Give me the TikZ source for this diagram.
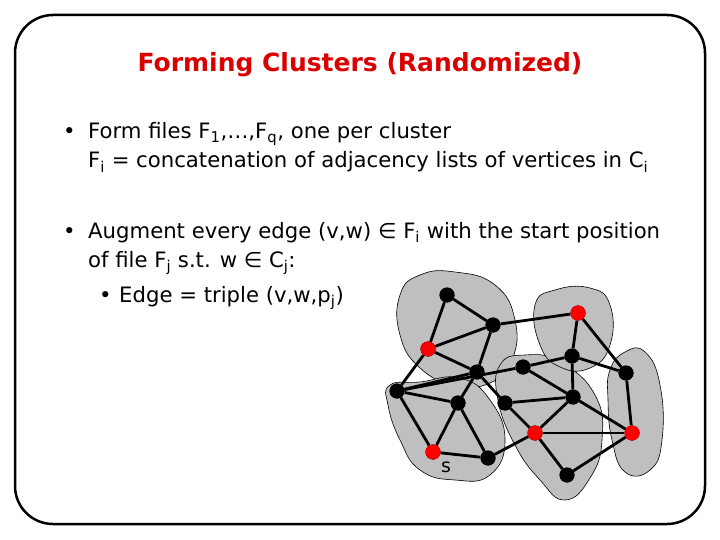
\documentclass[tikz,border=0pt]{standalone}
\usepackage{fontspec}
\setmainfont{DejaVu Sans}
\begin{document}
\begin{tikzpicture}[x=1pt,y=-1pt,
  blob/.style={fill=black!25,draw=black,line width=0.6pt},
  vb/.style={circle,fill=black,inner sep=0pt,minimum size=15pt},
  vr/.style={circle,fill=red,inner sep=0pt,minimum size=15pt},
  ed/.style={line width=2.8pt},
  txt/.style={anchor=base west,inner sep=0pt,font=\fontsize{21.2}{24}\selectfont}]
\useasboundingbox (0,0) rectangle (720,540);
\draw[line width=2.5pt,rounded corners=38pt] (15,15) rectangle (705,524);
\node[font=\bfseries\fontsize{25}{28}\selectfont,text=red!85!black] (title) at (360,65) {Forming Clusters (Randomized)};
\node[txt] (b1) at (63,139) {•};
\node[txt] (l1) at (88,139) {Form files F\textsubscript{1},\dots,F\textsubscript{q}, one per cluster};
\node[txt] (l2) at (88,168) {F\textsubscript{i} = concatenation of adjacency lists of vertices in C\textsubscript{i}};
\node[txt] (b3) at (63,238) {•};
\node[txt] (l3) at (88,238) {Augment every edge (v,w) ∈ F\textsubscript{i} with the start position};
\node[txt] (l4) at (88,267) {of file F\textsubscript{j} s.t. w ∈ C\textsubscript{j}:};
\node[txt] (b5) at (99,302) {•};
\node[txt] (l5) at (119,302) {Edge = triple (v,w,p\textsubscript{j})};
% blobs
\draw[blob] plot[smooth cycle,tension=0.8] coordinates {(400,295)(420,275)(455,272)(495,285)(515,320)(512,360)(490,383)(455,385)(420,368)(400,335)};
\draw[blob] plot[smooth cycle,tension=0.8] coordinates {(390,385)(420,382)(460,378)(490,400)(505,440)(490,475)(455,480)(420,470)(400,440)(388,405)};
\draw[blob] plot[smooth cycle,tension=0.8] coordinates {(500,365)(525,355)(560,362)(595,395)(602,440)(590,478)(565,500)(540,480)(515,445)(498,400)};
\draw[blob] plot[smooth cycle,tension=0.8] coordinates {(535,305)(555,290)(590,288)(610,305)(610,345)(590,368)(560,367)(540,345)};
\draw[blob] plot[smooth cycle,tension=0.8] coordinates {(610,370)(625,352)(645,352)(660,385)(662,440)(650,470)(625,472)(612,440)(608,400)};
% vertices
\node[vb] (a) at (447,295) {};
\node[vb] (b) at (493,325) {};
\node[vr] (c) at (428,349) {};
\node[vb] (d) at (477,372) {};
\node[vb] (e) at (397,391) {};
\node[vb] (f) at (458,403) {};
\node[vr] (g) at (433,452) {};
\node[vb] (h) at (488,458) {};
\node[vb] (i) at (523,367) {};
\node[vr] (j) at (578,313) {};
\node[vb] (k) at (572,356) {};
\node[vb] (l) at (626,373) {};
\node[vb] (m) at (505,403) {};
\node[vb] (n) at (573,397) {};
\node[vr] (o) at (535,433) {};
\node[vr] (p) at (632,433) {};
\node[vb] (q) at (567,475) {};
\node[font=\fontsize{19}{20}\selectfont] (s) at (446,467) {s};
\foreach \u/\v in {a/b,a/c,c/b,b/d,c/d,b/j,c/e,e/d,e/f,e/g,f/g,f/h,d/f,g/h,h/o,d/m,e/i,i/k,i/n,m/n,m/o,n/o,k/n,j/k,j/l,k/l,l/p,n/p,o/p,o/q,q/p}
  \draw[ed] (\u) -- (\v);
\foreach \v in {a,b,c,d,e,f,g,h,i,j,k,l,m,n,o,p,q} \node[vb] at (\v) {};
\foreach \v in {c,g,j,o,p} \node[vr] at (\v) {};
\end{tikzpicture}
\end{document}
